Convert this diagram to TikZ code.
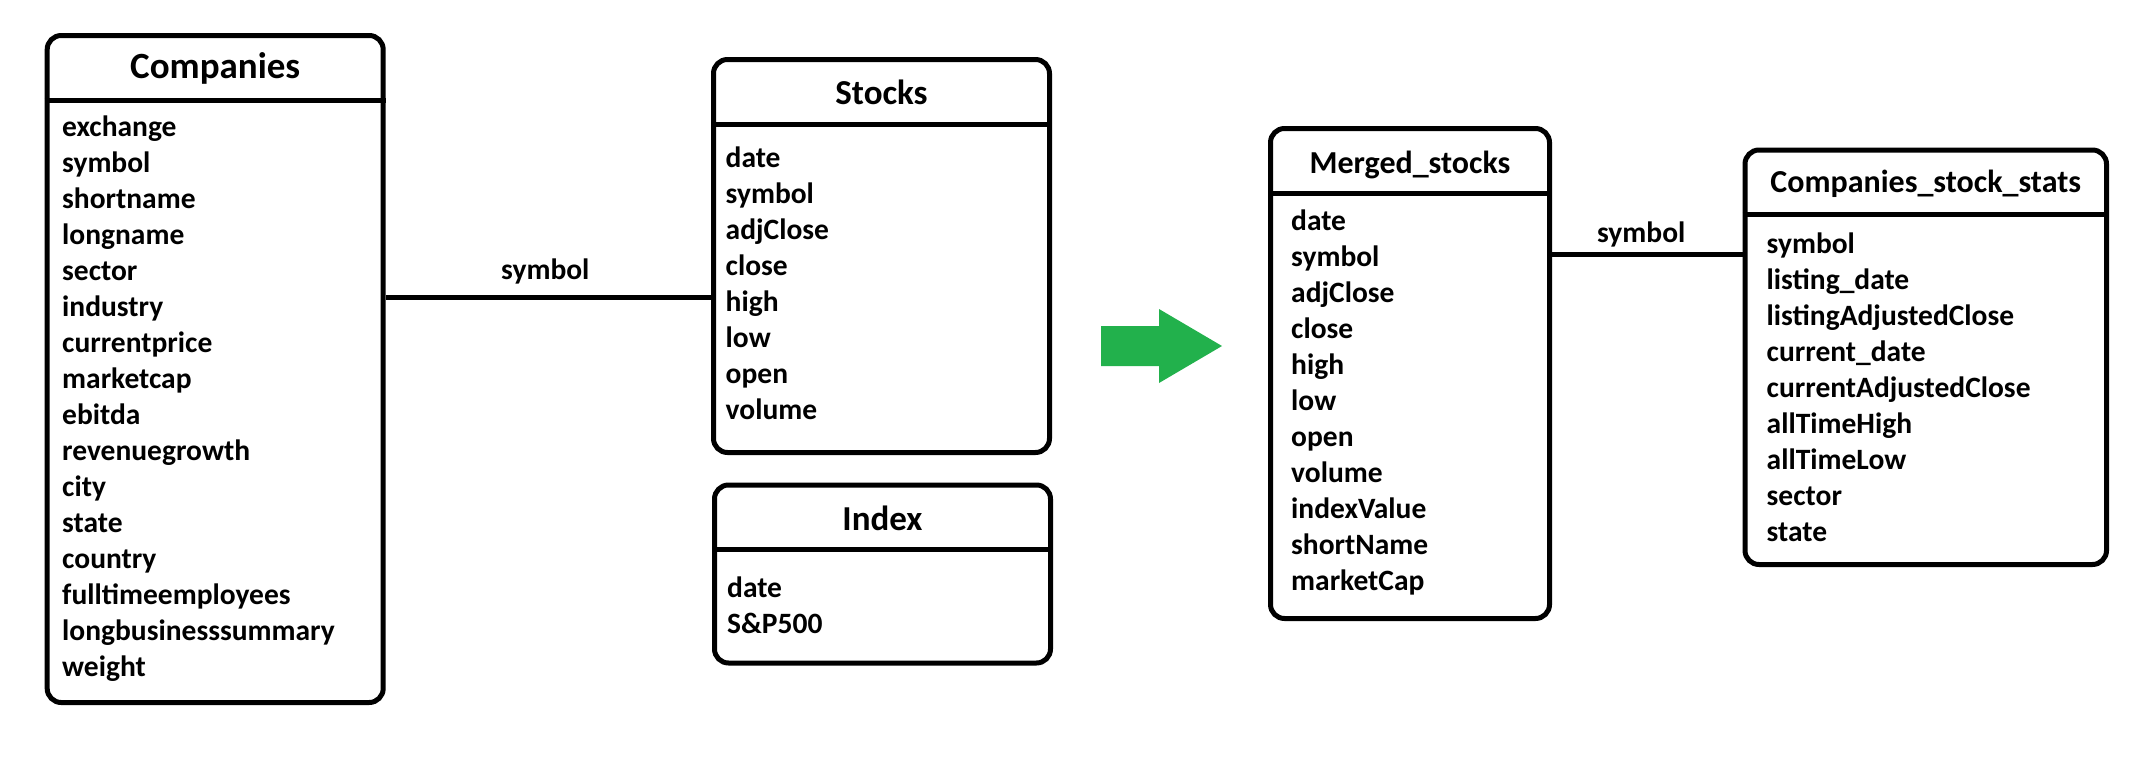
\documentclass[tikz,border=0pt]{standalone}
\usepackage{fontspec}
\setmainfont{Carlito}
\usetikzlibrary{positioning}
\definecolor{arrowgreen}{RGB}{34,177,76}

\begin{document}
\begin{tikzpicture}[x=1pt,y=-1pt,
    table/.style={draw,line width=5pt,rounded corners=14pt,inner sep=0pt,anchor=north west},
    title/.style={font=\fontsize{#1}{#1}\selectfont\bfseries,anchor=base,inner sep=0pt},
    field/.style={font=\fontsize{29.5}{36}\selectfont\bfseries,anchor=base west,inner sep=0pt},
    link/.style={line width=5pt},
    linklabel/.style={font=\fontsize{29.5}{36}\selectfont\bfseries,anchor=base,inner sep=0pt}]
    \useasboundingbox (0,0) rectangle (2156,772);

    % the tables
    \node[table,minimum width=336pt,minimum height=667pt] (companies) at (44.7,33) {};
    \node[table,minimum width=336pt,minimum height=393pt] (stocks) at (711,57) {};
    \node[table,minimum width=336pt,minimum height=178pt] (index) at (712,482.5) {};
    \node[table,minimum width=279pt,minimum height=490pt] (merged) at (1268,126) {};
    \node[table,minimum width=361.5pt,minimum height=414.5pt] (stats) at (1742.5,147.5) {};

    % header lines and titles
    \foreach \t/\y/\b/\s/\name in {companies/100.5/78.3/37/Companies, stocks/124/104.3/35/Stocks,
      index/549.3/530/35/Index, merged/193/173/32/Merged\_stocks,
      stats/214.7/192.5/32/Companies\_stock\_stats} {
      \draw[link] (\t.west |- 0,\y) -- (\t.east |- 0,\y);
      \node[title=\s] (\t-title) at (\t.north |- 0,\b) {\name};
    }

    % the fields
    \foreach \f [count=\i from 0] in {exchange,symbol,shortname,longname,sector,
      industry,currentprice,marketcap,ebitda,revenuegrowth,city,state,country,
      fulltimeemployees,longbusinesssummary,weight}
      \node[field] (companies-\i) at (62,{136.3+36*\i}) {\f};
    \foreach \f [count=\i from 0] in {date,symbol,adjClose,close,high,low,open,volume}
      \node[field] (stocks-\i) at (725.5,{167.7+36*\i}) {\f};
    \foreach \f [count=\i from 0] in {date,S\&P500}
      \node[field] (index-\i) at (727,{597.3+36*\i}) {\f};
    \foreach \f [count=\i from 0] in {date,symbol,adjClose,close,high,low,open,
      volume,indexValue,shortName,marketCap}
      \node[field] (merged-\i) at (1291,{230+36*\i}) {\f};
    \foreach \f [count=\i from 0] in {symbol,listing\_date,listingAdjustedClose,
      current\_date,currentAdjustedClose,allTimeHigh,allTimeLow,sector,state}
      \node[field] (stats-\i) at (1766.5,{253.5+36*\i}) {\f};

    % the joins on symbol
    \coordinate (join1) at (0,297);
    \coordinate (join2) at (0,254.7);
    \draw[link] (companies.east |- join1) -- node[linklabel,yshift=18pt,xshift=-3pt] {symbol}
    (stocks.west |- join1);
    \draw[link] (merged.east |- join2) -- node[linklabel,yshift=12pt,xshift=-6pt] {symbol}
    (stats.west |- join2);

    % the green arrow
    \fill[arrowgreen] (1101,326) -- (1159,326) -- (1159,309) -- (1222,346)
    -- (1159,383) -- (1159,366) -- (1101,366) -- cycle;
\end{tikzpicture}
\end{document}
